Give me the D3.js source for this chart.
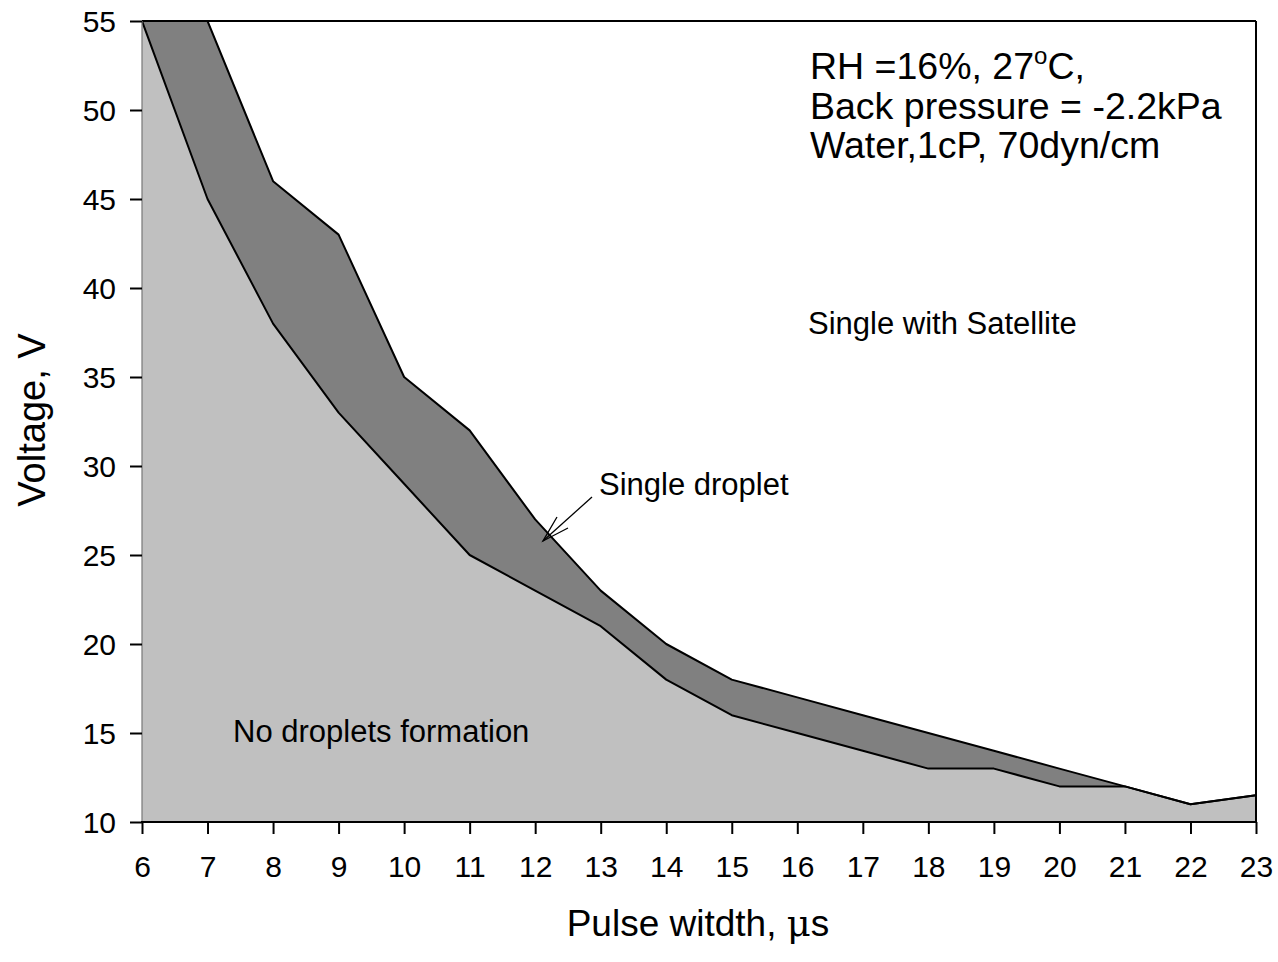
<!DOCTYPE html>
<html>
<head>
<meta charset="utf-8">
<script src="https://cdn.jsdelivr.net/npm/d3@7"></script>
<style>
  html, body { margin: 0; padding: 0; background: #fff; }
  svg { display: block; font-family: Arial, "Liberation Sans", sans-serif; }
</style>
</head>
<body>
<svg id="chart" width="1278" height="962"></svg>
<script>
// ---- data ----
const pulseWidth = [6, 7, 8, 9, 10, 11, 12, 13, 14, 15, 16, 17, 18, 19, 20, 21, 22, 23];
// boundary between "No droplets formation" and "Single droplet"
const lowerBoundary = [55, 45, 38, 33, 29, 25, 23, 21, 18, 16, 15, 14, 13, 13, 12, 12, 11, 11.5];
// boundary between "Single droplet" and "Single with Satellite"
const upperBoundary = [55, 55, 46, 43, 35, 32, 27, 23, 20, 18, 17, 16, 15, 14, 13, 12, 11, 11.5];
const xTicks = [6, 7, 8, 9, 10, 11, 12, 13, 14, 15, 16, 17, 18, 19, 20, 21, 22, 23];
const yTicks = [10, 15, 20, 25, 30, 35, 40, 45, 50, 55];
const conditionLines = ["RH =16%, 27", "Back pressure = -2.2kPa", "Water,1cP, 70dyn/cm"];

(function () {
const rows = pulseWidth.map((x, i) => ({ x, lo: lowerBoundary[i], hi: upperBoundary[i] }));

const svg = d3.select("#chart");
const pL = 142, pR = 1256, pT = 21, pB = 822;
const x = d3.scaleLinear().domain([6, 23]).range([pL, pR]);
const y = d3.scaleLinear().domain([10, 55]).range([pB, pT]);
const FS = 30;

svg.append("defs").append("clipPath").attr("id", "clip")
  .append("rect").attr("x", pL).attr("y", pT).attr("width", pR - pL).attr("height", pB - pT);

const g = svg.append("g").attr("clip-path", "url(#clip)");

// light region: no droplets
g.append("path").datum(rows)
  .attr("fill", "#c0c0c0")
  .attr("d", d3.area().x(d => x(d.x)).y0(y(10)).y1(d => y(d.lo)));
// dark region: single droplet
g.append("path").datum(rows)
  .attr("fill", "#808080")
  .attr("d", d3.area().x(d => x(d.x)).y0(d => y(d.lo)).y1(d => y(d.hi)));

const line = key => d3.line().x(d => x(d.x)).y(d => y(d[key]));
g.append("path").datum(rows).attr("fill", "none").attr("stroke", "#000").attr("stroke-width", 2)
  .attr("stroke-linejoin", "round").attr("d", line("lo"));
g.append("path").datum(rows).attr("fill", "none").attr("stroke", "#000").attr("stroke-width", 2)
  .attr("stroke-linejoin", "round").attr("d", line("hi"));

// frame
svg.append("line").attr("x1", pL).attr("x2", pR).attr("y1", pT).attr("y2", pT)
  .attr("stroke", "#000").attr("stroke-width", 2);
svg.append("line").attr("x1", pR).attr("x2", pR).attr("y1", pT).attr("y2", pB)
  .attr("stroke", "#000").attr("stroke-width", 2);
svg.append("line").attr("x1", pL).attr("x2", pL).attr("y1", pT).attr("y2", pB)
  .attr("stroke", "#777").attr("stroke-width", 1.2);

// axes
const xAxis = svg.append("g").attr("transform", `translate(0,${pB})`)
  .call(d3.axisBottom(x).tickValues(xTicks).tickSize(12).tickPadding(22).tickFormat(d3.format("d")));
const yAxis = svg.append("g").attr("transform", `translate(${pL},0)`)
  .call(d3.axisLeft(y).tickValues(yTicks).tickSize(12).tickPadding(14).tickFormat(d3.format("d")));
[xAxis, yAxis].forEach(a => {
  a.select(".domain").remove();
  a.selectAll(".tick line").attr("stroke", "#000").attr("stroke-width", 2);
  a.selectAll(".tick text").attr("fill", "#000").attr("font-size", FS)
    .attr("font-family", "Arial, 'Liberation Sans', sans-serif");
});
yAxis.selectAll(".tick text").attr("dy", "0.36em");
xAxis.selectAll(".tick text").attr("dy", "0.71em");
svg.append("line").attr("x1", pL - 1).attr("x2", pR + 1).attr("y1", pB).attr("y2", pB)
  .attr("stroke", "#000").attr("stroke-width", 2);

// axis titles
svg.append("text").attr("x", 698).attr("y", 936)
  .attr("text-anchor", "middle").attr("font-size", 37)
  .html('Pulse witdth, <tspan font-family="DejaVu Serif, serif">μ</tspan>s');
svg.append("text").attr("transform", "translate(45,420) rotate(-90)")
  .attr("text-anchor", "middle").attr("font-size", 38).text("Voltage, V");

// region labels
svg.append("text").attr("x", 808).attr("y", 334).attr("font-size", 31).text("Single with Satellite");
svg.append("text").attr("x", 233).attr("y", 742).attr("font-size", 31).text("No droplets formation");
svg.append("text").attr("x", 599).attr("y", 495).attr("font-size", 31).text("Single droplet");

// arrow
svg.append("line").attr("x1", 592).attr("y1", 497).attr("x2", 543).attr("y2", 541)
  .attr("stroke", "#000").attr("stroke-width", 1.3);
svg.append("polyline").attr("points", "557,517 543,541 568,528")
  .attr("fill", "none").attr("stroke", "#000").attr("stroke-width", 1.3);

// conditions block
const cond = svg.append("g").attr("font-size", 37.5);
const t0 = cond.append("text").attr("x", 810).attr("y", 79);
t0.append("tspan").text(conditionLines[0]);
t0.append("tspan").attr("font-size", 24).attr("dy", -15).text("o");
t0.append("tspan").attr("dy", 15).text("C,");
cond.append("text").attr("x", 810).attr("y", 119).text(conditionLines[1]);
cond.append("text").attr("x", 810).attr("y", 158).text(conditionLines[2]);
})();
</script>
</body>
</html>
